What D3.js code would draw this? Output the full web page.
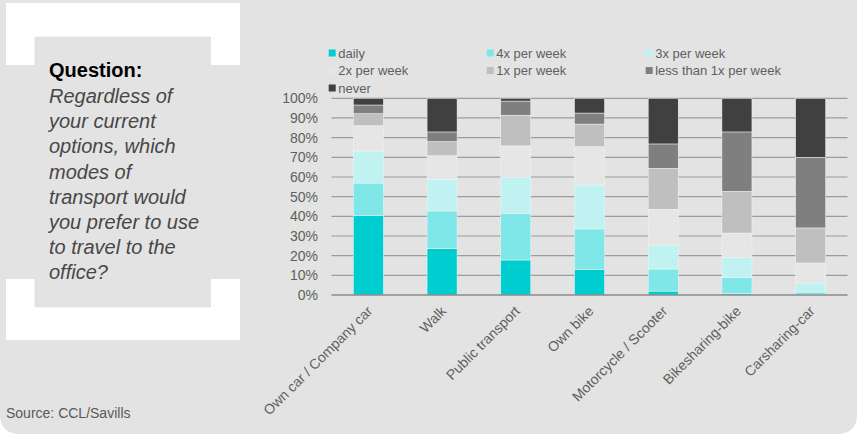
<!DOCTYPE html>
<html>
<head>
<meta charset="utf-8">
<script src="https://cdn.jsdelivr.net/npm/d3@7"></script>
<style>
  html, body { margin: 0; padding: 0; background: #ffffff; }
  svg { display: block; font-family: "Liberation Sans", Arial, Helvetica, sans-serif; }
</style>
</head>
<body>
<svg id="chart" width="857" height="436"></svg>
<script>
// Transport modes (x categories)
const categories = [
  "Own car / Company car", "Walk", "Public transport", "Own bike",
  "Motorcycle / Scooter", "Bikesharing-bike", "Carsharing-car"
];

// Frequency groups (stack order, bottom to top)
const frequencies = [
  "daily", "4x per week", "3x per week", "2x per week",
  "1x per week", "less than 1x per week", "never"
];

// Share of respondents (%) per frequency, one value per transport mode
const daily      = [40.5, 23.6, 17.8, 13.1,  2.0,  0.7,  0.3];
const perWeek4   = [16.4, 19.1, 23.7, 20.5, 11.2,  8.1,  1.2];
const perWeek3   = [16.3, 16.1, 18.3, 22.3, 12.2, 10.2,  4.6];
const perWeek2   = [12.9, 12.0, 16.0, 19.5, 18.2, 12.5, 10.2];
const perWeek1   = [ 6.1,  7.2, 15.6, 11.5, 20.8, 21.2, 17.8];
const lessThan1  = [ 4.4,  4.9,  7.2,  5.6, 12.4, 30.2, 35.9];
const never      = [ 3.4, 17.1,  1.4,  7.5, 23.2, 17.1, 30.0];

const yTicks = [0, 10, 20, 30, 40, 50, 60, 70, 80, 90, 100];

const questionTitle = "Question:";
const questionLines = [
  "Regardless of", "your current", "options, which", "modes of",
  "transport would", "you prefer to use", "to travel to the", "office?"
];
const sourceText = "Source: CCL/Savills";

const seriesValues = [daily, perWeek4, perWeek3, perWeek2, perWeek1, lessThan1, never];
const colors = ["#00cdd0", "#7fe7e7", "#c0f2f2", "#e6e6e6", "#bfbfbf", "#7f7f7f", "#404040"];

// Rows for the stack layout
const rows = categories.map((c, i) => {
  const r = { category: c };
  frequencies.forEach((f, k) => { r[f] = seriesValues[k][i]; });
  return r;
});

const svg = d3.select("#chart");

// Panel background with rounded lower corners
svg.append("path")
  .attr("d", "M0,0 H857 V414 Q857,434 837,434 H20 Q0,434 0,414 Z")
  .attr("fill", "#e3e3e3");

// Question box with white corner brackets
svg.append("rect").attr("x", 6).attr("y", 3).attr("width", 234).attr("height", 62).attr("fill", "#ffffff");
svg.append("rect").attr("x", 6).attr("y", 279).attr("width", 234).attr("height", 61).attr("fill", "#ffffff");
svg.append("rect").attr("x", 34.5).attr("y", 36.7).attr("width", 176.5).attr("height", 270.6).attr("fill", "#e3e3e3");

svg.append("text")
  .attr("x", 49).attr("y", 77)
  .attr("font-size", 20).attr("font-weight", "bold").attr("fill", "#000000")
  .text(questionTitle);

svg.append("g").selectAll("text")
  .data(questionLines)
  .join("text")
  .attr("x", 49)
  .attr("y", (d, i) => 103 + i * 25.2)
  .attr("font-size", 20).attr("font-style", "italic").attr("fill", "#474747")
  .text(d => d);

svg.append("text")
  .attr("x", 6).attr("y", 418)
  .attr("font-size", 14).attr("fill", "#595959")
  .text(sourceText);

// Scales
const x = d3.scaleBand()
  .domain(categories)
  .range([331.5, 847.5])
  .paddingInner(0.593)
  .paddingOuter(0.2965);

const y = d3.scaleLinear().domain([0, 100]).range([295, 98.3]);

// Gridlines
svg.append("g").selectAll("line")
  .data(yTicks.filter(t => t > 0))
  .join("line")
  .attr("x1", 331.5).attr("x2", 847.5)
  .attr("y1", d => y(d)).attr("y2", d => y(d))
  .attr("stroke", "#9c9c9c").attr("stroke-width", 1.2);

// Y axis labels
const yAxis = svg.append("g")
  .attr("transform", "translate(331.5,0)")
  .call(d3.axisLeft(y).tickValues(yTicks).tickFormat(d => d + "%").tickSize(0).tickPadding(13.5));
yAxis.select(".domain").remove();
yAxis.selectAll("text")
  .attr("font-family", "Liberation Sans, Arial, sans-serif")
  .attr("font-size", 14).attr("fill", "#5f5f5f");

// Stacked bars
const stacked = d3.stack().keys(frequencies)(rows);

svg.append("g").selectAll("g")
  .data(stacked)
  .join("g")
  .attr("fill", (d, i) => colors[i])
  .selectAll("rect")
  .data(d => d)
  .join("rect")
  .attr("x", d => x(d.data.category))
  .attr("width", x.bandwidth())
  .attr("y", d => y(d[1]))
  .attr("height", d => y(d[0]) - y(d[1]))
  .attr("stroke", "#eef6f6").attr("stroke-width", 0.5);

// Baseline (0%)
svg.append("line")
  .attr("x1", 331.5).attr("x2", 847.5)
  .attr("y1", y(0)).attr("y2", y(0))
  .attr("stroke", "#8a8a8a").attr("stroke-width", 1.4);

// X axis labels, rotated
const xAxis = svg.append("g")
  .attr("transform", `translate(0,${y(0)})`)
  .call(d3.axisBottom(x).tickSize(0).tickPadding(0));
xAxis.select(".domain").remove();
xAxis.selectAll("text")
  .attr("font-family", "Liberation Sans, Arial, sans-serif")
  .attr("font-size", 14).attr("fill", "#5f5f5f")
  .attr("text-anchor", "end")
  .attr("dy", 0)
  .attr("y", 0)
  .attr("transform", "translate(5,17) rotate(-45)");

// Legend, three columns
const legendCols = [328.7, 486.7, 645.7];
const legendRows = [53, 70.5, 88];
const legend = svg.append("g").selectAll("g")
  .data(frequencies)
  .join("g")
  .attr("transform", (d, i) => `translate(${legendCols[i % 3]},${legendRows[Math.floor(i / 3)]})`);
legend.append("rect")
  .attr("x", 0).attr("y", -3.5).attr("width", 7).attr("height", 7)
  .attr("fill", (d, i) => colors[i]);
legend.append("text")
  .attr("x", 9.5).attr("y", 0).attr("dy", "0.35em")
  .attr("font-size", 13).attr("fill", "#5f5f5f")
  .text(d => d);
</script>
</body>
</html>
